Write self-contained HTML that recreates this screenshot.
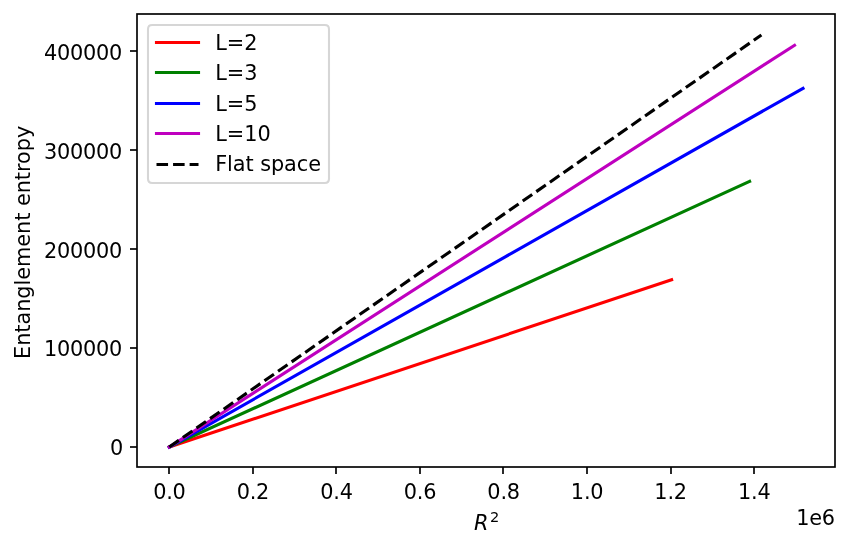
<!DOCTYPE html>
<html lang="en"><head><meta charset="utf-8"><title>Entanglement entropy</title>
<style>html,body{margin:0;padding:0;background:#fff;}svg{display:block;}text{font-family:"DejaVu Sans","Liberation Sans",sans-serif;font-size:20.83px;fill:#000;}</style>
</head><body>
<svg width="849" height="549" viewBox="0 0 849 549">
<rect x="0" y="0" width="849" height="549" fill="#ffffff"/>
<g fill="none" stroke-width="3.125" stroke-linecap="square">
<path d="M169.30 447.00Q420.45 362.55 671.60 279.70" stroke="#ff0000"/>
<path d="M169.30 447.00Q459.45 313.60 749.60 181.40" stroke="#008000"/>
<path d="M169.30 447.00L803.00 88.30" stroke="#0000ff"/>
<path d="M169.30 447.00L794.50 45.30" stroke="#bf00bf"/>
</g>
<path d="M169.30 447.00L761.40 35.00" fill="none" stroke="#000" stroke-width="3.125" stroke-dasharray="11.56 5"/>
<rect x="137" y="14" width="698" height="453" fill="none" stroke="#000" stroke-width="1.667"/>
<g stroke="#000" stroke-width="1.667" fill="none">
<path d="M169 467V474.0"/>
<path d="M253 467V474.0"/>
<path d="M336 467V474.0"/>
<path d="M420 467V474.0"/>
<path d="M503 467V474.0"/>
<path d="M587 467V474.0"/>
<path d="M671 467V474.0"/>
<path d="M754 467V474.0"/>
<path d="M137 447H130.0"/>
<path d="M137 348H130.0"/>
<path d="M137 249H130.0"/>
<path d="M137 150H130.0"/>
<path d="M137 51H130.0"/>
</g>
<g text-anchor="middle" letter-spacing="-0.2">
<text x="169.4" y="498.8">0.0</text>
<text x="252.9" y="498.8">0.2</text>
<text x="336.5" y="498.8">0.4</text>
<text x="420.0" y="498.8">0.6</text>
<text x="503.6" y="498.8">0.8</text>
<text x="587.1" y="498.8">1.0</text>
<text x="670.6" y="498.8">1.2</text>
<text x="754.2" y="498.8">1.4</text>
</g>
<g text-anchor="end" letter-spacing="-0.25">
<text x="123.0" y="455.1">0</text>
<text x="122.0" y="356.1">100000</text>
<text x="122.0" y="258.1">200000</text>
<text x="122.0" y="159.1">300000</text>
<text x="122.0" y="60.1">400000</text>
</g>
<text x="474.0" y="529.8"><tspan font-style="italic">R</tspan><tspan dx="1.4" dy="-7.9" font-size="14.58px">2</tspan></text>
<text x="834.8" y="524.6" text-anchor="end" letter-spacing="-0.25">1e6</text>
<text transform="translate(30.2 242.4) rotate(-90)" text-anchor="middle" letter-spacing="-0.04">Entanglement entropy</text>
<path d="M152.17 25.00H324.83Q329.00 25.00 329.00 29.17V178.83Q329.00 183.00 324.83 183.00H152.17Q148.00 183.00 148.00 178.83V29.17Q148.00 25.00 152.17 25.00Z" fill="#ffffff" fill-opacity="0.8" stroke="#cccccc" stroke-opacity="0.8" stroke-width="2.08" stroke-linejoin="miter"/>
<path d="M156.50 42.50H198.50" stroke="#ff0000" stroke-width="3.125" stroke-linecap="square" fill="none"/>
<text x="215.2" y="50.1">L=2</text>
<path d="M156.50 72.50H198.50" stroke="#008000" stroke-width="3.125" stroke-linecap="square" fill="none"/>
<text x="215.2" y="80.1">L=3</text>
<path d="M156.50 103.50H198.50" stroke="#0000ff" stroke-width="3.125" stroke-linecap="square" fill="none"/>
<text x="215.2" y="111.1">L=5</text>
<path d="M156.50 133.50H198.50" stroke="#bf00bf" stroke-width="3.125" stroke-linecap="square" fill="none"/>
<text x="215.2" y="141.1">L=10</text>
<path d="M156.50 164.50H198.50" stroke="#000" stroke-width="3.125" stroke-dasharray="11.56 5" fill="none"/>
<text x="215.2" y="171.1" letter-spacing="-0.07">Flat space</text>
</svg>
</body></html>
